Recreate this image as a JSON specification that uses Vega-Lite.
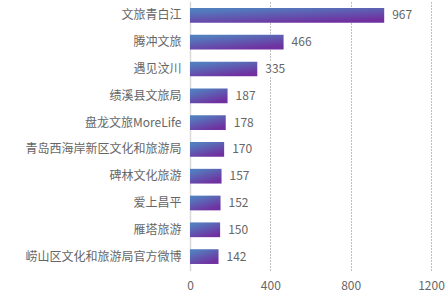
{
  "$schema": "https://vega.github.io/schema/vega-lite/v6.json",
  "autosize": {"type": "none"},
  "padding": {"left": 190, "top": 2, "right": 16, "bottom": 27},
  "width": 241,
  "height": 268,
  "background": "white",
  "config": {
    "view": {"stroke": null},
    "font": "Noto Sans CJK SC",
    "axis": {"labelFont": "Noto Sans CJK SC", "labelFontSize": 12, "labelColor": "#666666"}
  },
  "data": {
    "values": [
      {"account": "文旅青白江", "posts": 967},
      {"account": "腾冲文旅", "posts": 466},
      {"account": "遇见汶川", "posts": 335},
      {"account": "绩溪县文旅局", "posts": 187},
      {"account": "盘龙文旅MoreLife", "posts": 178},
      {"account": "青岛西海岸新区文化和旅游局", "posts": 170},
      {"account": "碑林文化旅游", "posts": 157},
      {"account": "爱上昌平", "posts": 152},
      {"account": "雁塔旅游", "posts": 150},
      {"account": "崂山区文化和旅游局官方微博", "posts": 142}
    ]
  },
  "encoding": {
    "y": {
      "field": "account",
      "type": "nominal",
      "sort": null,
      "scale": {"paddingInner": 0.45, "paddingOuter": 0.225},
      "axis": {
        "title": null,
        "ticks": false,
        "domain": true,
        "domainColor": "#d9d9d9",
        "domainWidth": 1.5,
        "labelPadding": 9,
        "labelLimit": 200
      }
    },
    "x": {
      "field": "posts",
      "type": "quantitative",
      "scale": {"domain": [0, 1200], "nice": false},
      "axis": {
        "title": null,
        "values": [0, 400, 800, 1200],
        "format": "d",
        "ticks": false,
        "domain": false,
        "grid": true,
        "gridColor": "#7f7f7f",
        "gridDash": [1, 2],
        "gridWidth": 1,
        "labelPadding": 10,
        "labelFlush": false
      }
    }
  },
  "layer": [
    {
      "mark": {
        "type": "bar",
        "color": {
          "gradient": "linear",
          "x1": 0, "y1": 0, "x2": 0.6, "y2": 1,
          "stops": [
            {"offset": 0, "color": "#4f82c0"},
            {"offset": 0.2, "color": "#5479bd"},
            {"offset": 1, "color": "#7030a0"}
          ]
        }
      }
    },
    {
      "mark": {
        "type": "point",
        "filled": true,
        "color": "white",
        "opacity": 1,
        "shape": "M-1,-0.55H1V0.55H-1Z",
        "size": 784,
        "xOffset": 18
      }
    },
    {
      "mark": {
        "type": "text",
        "align": "left",
        "baseline": "middle",
        "dx": 8,
        "fontSize": 12,
        "color": "#666666"
      },
      "encoding": {"text": {"field": "posts", "type": "quantitative"}}
    }
  ]
}
